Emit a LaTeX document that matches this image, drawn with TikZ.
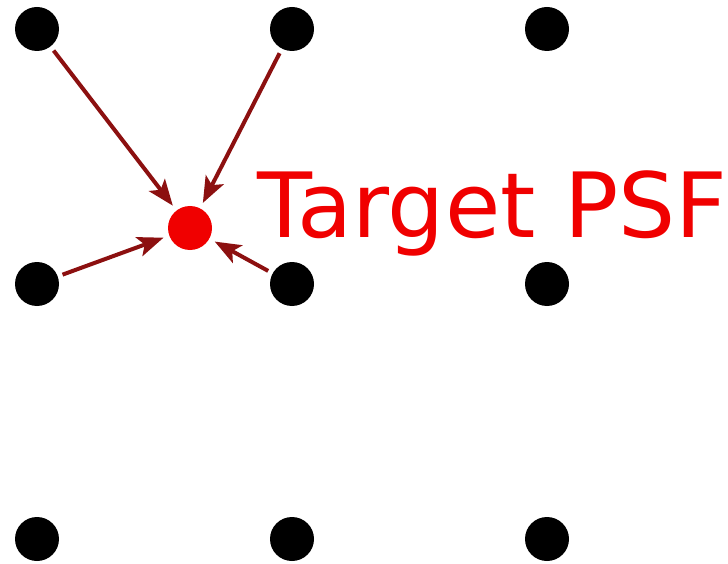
\documentclass[tikz,border=0pt]{standalone}
\usepackage{fontspec}
\newfontfamily\labelfont{DejaVu Sans}
\usetikzlibrary{arrows.meta}
\definecolor{arrowred}{RGB}{140,16,16}
\definecolor{psfred}{RGB}{240,0,0}
\tikzset{bighead/.tip={Stealth[length=26pt,width=20pt,inset=6pt]}}
\begin{document}
\begin{tikzpicture}[x=1pt,y=-1pt,
  dot/.style={circle,fill=black,inner sep=0pt,minimum size=44pt},
  target/.style={circle,fill=psfred,inner sep=0pt,minimum size=44pt},
  conn/.style={draw=arrowred,line width=4pt,-bighead,shorten <=5pt,shorten >=6pt}]
\path[use as bounding box] (0,0) rectangle (728,564);
\node[dot] (a1) at (37,29) {};
\node[dot] (a2) at (292,29) {};
\node[dot] (a3) at (547,29) {};
\node[dot] (b1) at (37,284) {};
\node[dot] (b2) at (292,284) {};
\node[dot] (b3) at (547,284) {};
\node[dot] (c1) at (37,539) {};
\node[dot] (c2) at (292,539) {};
\node[dot] (c3) at (547,539) {};
\node[target] (t) at (190,228) {};
\node[anchor=base west,inner sep=0pt,text=psfred,font=\labelfont\fontsize{90}{90}\selectfont] (lbl) at (257,237) {Target PSF};
\draw[conn] (a1) -- (t);
\draw[conn] (a2) -- (t);
\draw[conn] (b1) -- (t);
\draw[conn] (b2) -- (t);
\end{tikzpicture}
\end{document}
